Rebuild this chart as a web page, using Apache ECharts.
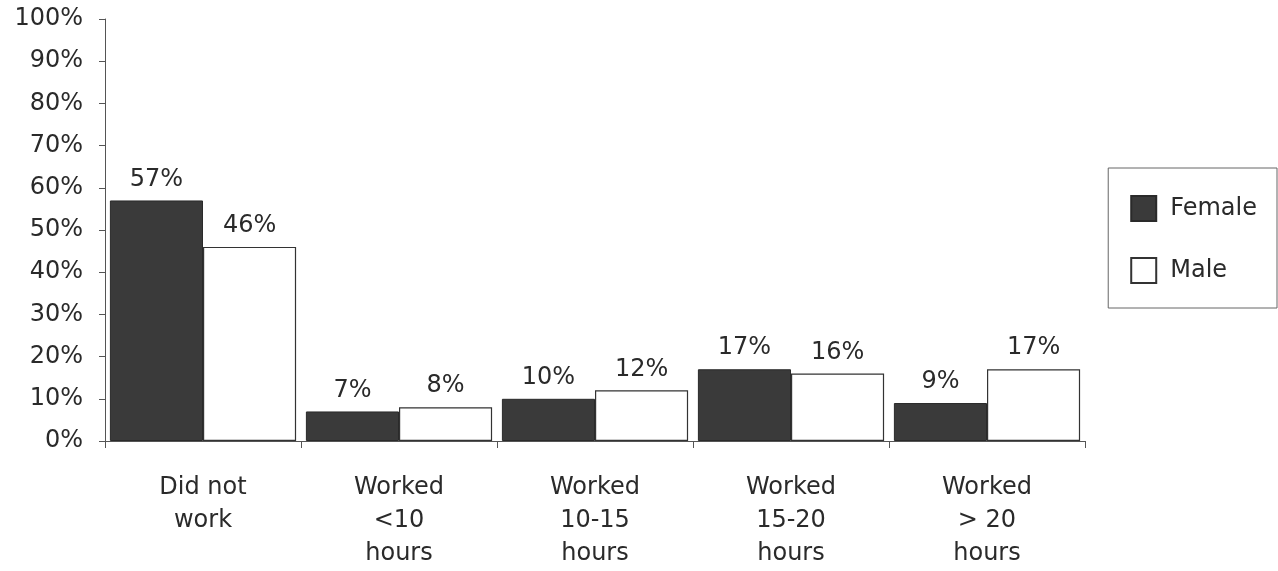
<!DOCTYPE html>
<html>
<head>
<meta charset="utf-8">
<script src="https://cdn.jsdelivr.net/npm/echarts@6/dist/echarts.min.js"></script>
<style>html,body{margin:0;padding:0;background:#fff}#c{width:1278px;height:571px}</style>
</head>
<body>
<div id="c"></div>
<script>
const categories = ['Did not\nwork', 'Worked\n<10\nhours', 'Worked\n10-15\nhours', 'Worked\n15-20\nhours', 'Worked\n> 20\nhours'];
const female = [57, 7, 10, 17, 9];
const male = [46, 8, 12, 16, 17];
const seriesNames = ['Female', 'Male'];

const chart = echarts.init(document.getElementById('c'));
const font = 'DejaVu Sans, Verdana, sans-serif';
const lbl = {show: true, position: 'top', distance: 9, formatter: '{c}%', fontFamily: font, fontSize: 24, color: '#2a2a2a'};
chart.setOption({
  animation: false,
  backgroundColor: '#fff',
  grid: {left: 105, right: 193, top: 19, bottom: 130},
  legend: {
    orient: 'vertical', right: 1, top: 168,
    data: seriesNames,
    itemWidth: 25, itemHeight: 25, itemGap: 35,
    padding: [27, 20, 24, 22],
    borderColor: '#666', borderWidth: 1,
    textStyle: {fontFamily: font, fontSize: 24, color: '#2a2a2a', padding: [0, 0, 0, 9]},
    icon: 'rect'
  },
  xAxis: {
    type: 'category', data: categories,
    axisLine: {lineStyle: {color: '#555', width: 1}},
    axisTick: {show: true, length: 7, lineStyle: {color: '#555'}},
    axisLabel: {fontFamily: font, fontSize: 24, color: '#2a2a2a', lineHeight: 33, margin: 30}
  },
  yAxis: {
    type: 'value', min: 0, max: 100, interval: 10,
    axisLine: {show: true, lineStyle: {color: '#555', width: 1}},
    axisTick: {show: true, length: 6, lineStyle: {color: '#555'}},
    splitLine: {show: false},
    axisLabel: {formatter: '{value}%', fontFamily: font, fontSize: 24, color: '#2a2a2a', margin: 22}
  },
  series: [
    {name: seriesNames[0], type: 'bar', data: female, barGap: '0%', barCategoryGap: '5%',
     itemStyle: {color: '#3a3a3a', borderColor: '#2a2a2a', borderWidth: 1}, label: lbl},
    {name: seriesNames[1], type: 'bar', data: male,
     itemStyle: {color: '#ffffff', borderColor: '#333', borderWidth: 1.2}, label: lbl}
  ]
});
</script>
</body>
</html>
